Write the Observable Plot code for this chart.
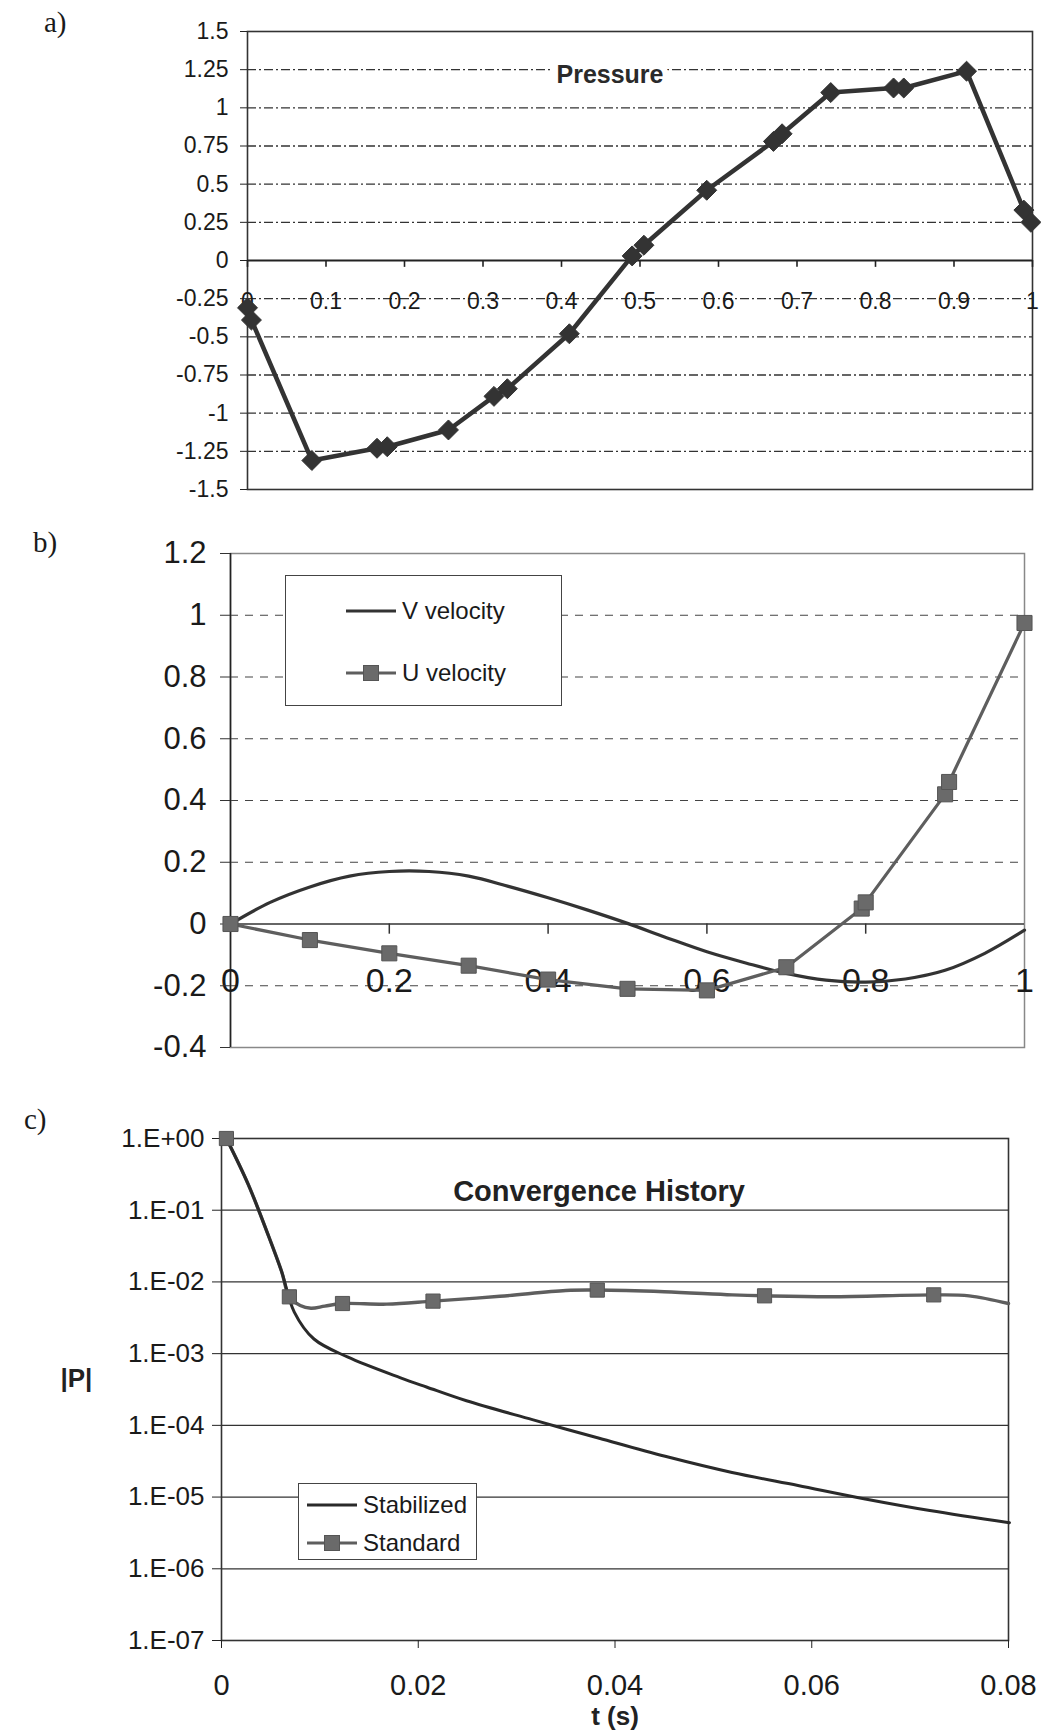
<!DOCTYPE html>
<html><head><meta charset="utf-8">
<script src="https://cdn.jsdelivr.net/npm/d3@7"></script>
<script src="https://cdn.jsdelivr.net/npm/@observablehq/plot@0.6"></script>
<style>
body{margin:0;background:#fff;}
#wrap{position:relative;width:1041px;height:1734px;background:#fff;font-family:"Liberation Sans",Arial,Helvetica,sans-serif;color:#1a1a1a;overflow:hidden;}
.panel{position:absolute;left:0;}
.tag{position:absolute;font-family:"Liberation Serif","Times New Roman",serif;font-size:29px;line-height:1;}
.legend{position:absolute;background:#fff;border:1.5px solid #444;box-sizing:border-box;}
.legend .row{position:absolute;left:0;display:flex;align-items:center;}
.legend svg{display:block;}
</style></head><body>
<div id="wrap">
  <div class="tag" style="left:44px;top:8px;">a)</div>
  <div class="tag" style="left:33px;top:528px;">b)</div>
  <div class="tag" style="left:24px;top:1105px;">c)</div>
  <div class="panel" id="pa" style="top:0px;"></div>
  <div class="panel" id="pb" style="top:520px;"></div>
  <div class="panel" id="pc" style="top:1080px;"></div>
  <div class="legend" id="legB" style="left:285px;top:575px;width:277px;height:131px;"></div>
  <div class="legend" id="legC" style="left:298px;top:1483px;width:179px;height:77px;"></div>
</div>
<script>
// ---------- Panel a: Pressure ----------
const pressureX = [0.0, 0.005, 0.082, 0.165, 0.178, 0.256, 0.314, 0.331, 0.41, 0.49, 0.505, 0.585, 0.67, 0.681, 0.743, 0.823, 0.836, 0.916, 0.989, 0.998];
const pressureY = [-0.31, -0.39, -1.31, -1.23, -1.22, -1.11, -0.89, -0.84, -0.48, 0.03, 0.10, 0.46, 0.78, 0.83, 1.10, 1.13, 1.13, 1.24, 0.33, 0.25];
const xTicksA = [0, 0.1, 0.2, 0.3, 0.4, 0.5, 0.6, 0.7, 0.8, 0.9, 1];
const yTicksA = [-1.5, -1.25, -1, -0.75, -0.5, -0.25, 0, 0.25, 0.5, 0.75, 1, 1.25, 1.5];
const gridA = [-1.25, -1, -0.75, -0.5, -0.25, 0.25, 0.5, 0.75, 1, 1.25];

// ---------- Panel b: velocities ----------
const vX = [0, 0.05, 0.1, 0.15, 0.2, 0.25, 0.3, 0.35, 0.4, 0.45, 0.5, 0.55, 0.6, 0.65, 0.7, 0.75, 0.8, 0.85, 0.9, 0.95, 1.0];
const vY = [0, 0.07, 0.12, 0.155, 0.17, 0.17, 0.155, 0.122, 0.085, 0.045, 0.002, -0.045, -0.09, -0.127, -0.16, -0.182, -0.188, -0.178, -0.15, -0.095, -0.02];
const uX = [0, 0.1, 0.2, 0.3, 0.4, 0.5, 0.6, 0.7, 0.795, 0.8, 0.9, 0.905, 1.0];
const uY = [0, -0.052, -0.095, -0.135, -0.18, -0.21, -0.215, -0.14, 0.05, 0.07, 0.42, 0.46, 0.975];
const xTicksB = [0, 0.2, 0.4, 0.6, 0.8, 1];
const yTicksB = [-0.4, -0.2, 0, 0.2, 0.4, 0.6, 0.8, 1, 1.2];
const gridB = [-0.2, 0.2, 0.4, 0.6, 0.8, 1];

// ---------- Panel c: convergence history ----------
const stabT = [0.0005, 0.0027, 0.0047, 0.0061, 0.0074, 0.0094, 0.0128, 0.0182, 0.0209, 0.0249, 0.0316, 0.0384, 0.0451, 0.0519, 0.0586, 0.0653, 0.072, 0.0801];
const stabP = [1, 0.232, 0.0468, 0.0141, 0.0038, 0.00160, 9.0e-4, 4.6e-4, 3.4e-4, 2.2e-4, 1.2e-4, 6.6e-5, 3.7e-5, 2.2e-5, 1.45e-5, 0.95e-5, 6.5e-6, 4.4e-6];
const stdT = [0.0005, 0.0027, 0.0047, 0.0061, 0.0069, 0.0080, 0.0091, 0.0105, 0.0123, 0.0168, 0.0215, 0.0283, 0.035, 0.0382, 0.045, 0.0519, 0.0552, 0.062, 0.0724, 0.076, 0.080];
const stdP = [1, 0.232, 0.0468, 0.0141, 6.2e-3, 4.7e-3, 4.3e-3, 4.6e-3, 5.0e-3, 4.9e-3, 5.4e-3, 6.3e-3, 7.6e-3, 7.7e-3, 7.3e-3, 6.6e-3, 6.4e-3, 6.2e-3, 6.6e-3, 6.4e-3, 5.0e-3];
const stdMarkT = [0.0005, 0.0069, 0.0123, 0.0215, 0.0382, 0.0552, 0.0724];
const stdMarkP = [1, 6.2e-3, 5.0e-3, 5.4e-3, 7.7e-3, 6.4e-3, 6.6e-3];
const xTicksC = [0, 0.02, 0.04, 0.06, 0.08];
const yTicksC = [1e-7, 1e-6, 1e-5, 1e-4, 1e-3, 1e-2, 1e-1, 1];
const gridC = [1e-6, 1e-5, 1e-4, 1e-3, 1e-2, 1e-1];

const FONT = "Liberation Sans, Arial, Helvetica, sans-serif";
const INK = "#1a1a1a";
const fmt = d => String(d);
const fmtE = d => { const e = Math.round(Math.log10(d)); return "1.E" + (e >= 0 ? "+" : "-") + String(Math.abs(e)).padStart(2, "0"); };
const zip = (xs, ys) => xs.map((x, i) => ({x, y: ys[i]}));

const pressure = zip(pressureX, pressureY);
const vVel = zip(vX, vY);
const uVel = zip(uX, uY);
const stab = zip(stabT, stabP);
const std = zip(stdT, stdP);
const stdMarks = zip(stdMarkT, stdMarkP);

const baseStyle = {fontFamily: FONT, color: INK, background: "transparent", overflow: "visible"};

// Panel a
const plotA = Plot.plot({
  width: 1041, height: 520,
  marginLeft: 247, marginRight: 9, marginTop: 31, marginBottom: 31,
  x: {domain: [0, 1], axis: null},
  y: {domain: [-1.5, 1.5]},
  style: {...baseStyle, fontSize: "22px"},
  marks: [
    Plot.ruleY(gridA, {stroke: "#333", strokeWidth: 1.4, strokeDasharray: "9,3,2,3"}),
    Plot.frame({stroke: "#333", strokeWidth: 1.6}),
    Plot.ruleY([0], {stroke: "#222", strokeWidth: 2}),
    Plot.ruleX(xTicksA, {x: d => d, y1: 0, y2: -0.045, stroke: "#222", strokeWidth: 1.6}),
    Plot.text(xTicksA, {x: d => d, y: 0, dy: 41, text: fmt, fontSize: 23, fill: INK}),
    Plot.axisY({ticks: yTicksA, tickFormat: fmt, tickSize: 7, tickPadding: 12, fontSize: 23, label: null, stroke: "#222"}),
    Plot.text(["Pressure"], {frameAnchor: "top", dx: -30, dy: 34, text: d => d, fontWeight: "bold", fontSize: 25, fill: "#2a2a2a", stroke: "white", strokeWidth: 12, paintOrder: "stroke"}),
    Plot.line(pressure, {x: "x", y: "y", stroke: "#333", strokeWidth: 4.5}),
    Plot.dot(pressure, {x: "x", y: "y", symbol: "diamond2", r: 9, fill: "#333", stroke: "#333", strokeWidth: 1})
  ]
});
document.getElementById("pa").append(plotA);

// Panel b
const plotB = Plot.plot({
  width: 1041, height: 560,
  marginLeft: 230, marginRight: 17, marginTop: 33, marginBottom: 33,
  x: {domain: [0, 1], axis: null},
  y: {domain: [-0.4, 1.2]},
  style: {...baseStyle, fontSize: "31px"},
  marks: [
    Plot.ruleY(gridB, {stroke: "#444", strokeWidth: 1.2, strokeDasharray: "8,7"}),
    Plot.frame({stroke: "#888", strokeWidth: 1.5}),
    Plot.ruleX([0], {stroke: "#222", strokeWidth: 1.6}),
    Plot.ruleY([0], {stroke: "#333", strokeWidth: 1.6}),
    Plot.ruleX(xTicksB.slice(1, -1), {x: d => d, y1: 0, y2: -0.033, stroke: "#333", strokeWidth: 1.5}),
    Plot.text(xTicksB, {x: d => d, y: 0, dy: 57, text: fmt, fontSize: 34, fill: INK}),
    Plot.axisY({ticks: yTicksB, tickFormat: fmt, tickSize: 10, tickPadding: 14, fontSize: 31, label: null, stroke: "#333"}),
    Plot.line(vVel, {x: "x", y: "y", stroke: "#333", strokeWidth: 3.2, curve: "catmull-rom"}),
    Plot.line(uVel, {x: "x", y: "y", stroke: "#5e5e5e", strokeWidth: 3.2}),
    Plot.dot(uVel, {x: "x", y: "y", symbol: "square", r: 8.5, fill: "#6a6a6a", stroke: "#555", strokeWidth: 1})
  ]
});
document.getElementById("pb").append(plotB);

// Panel c
const plotC = Plot.plot({
  width: 1041, height: 654,
  marginLeft: 221, marginRight: 33, marginTop: 58, marginBottom: 94,
  x: {domain: [0, 0.08]},
  y: {type: "log", domain: [1e-7, 1]},
  style: {...baseStyle, fontSize: "26px"},
  marks: [
    Plot.ruleY(gridC, {stroke: "#333", strokeWidth: 1.3}),
    Plot.frame({stroke: "#333", strokeWidth: 1.6}),
    Plot.axisY({ticks: yTicksC, tickFormat: fmtE, tickSize: 9, tickPadding: 8, fontSize: 26, label: null, stroke: "#222"}),
    Plot.axisX({ticks: xTicksC, tickFormat: fmt, tickSize: 8, tickPadding: 26, fontSize: 29, label: null, stroke: "#222"}),
    Plot.text(["Convergence History"], {frameAnchor: "top", dx: -16, dy: 42, text: d => d, fontWeight: "bold", fontSize: 29, fill: "#222"}),
    Plot.text(["|P|"], {frameAnchor: "left", dx: -161, dy: -11, text: d => d, fontWeight: "bold", fontSize: 26, fill: "#222"}),
    Plot.text(["t (s)"], {frameAnchor: "bottom", dx: 0, dy: 84, text: d => d, fontWeight: "bold", fontSize: 26, fill: "#222"}),
    Plot.line(std, {x: "x", y: "y", stroke: "#5e5e5e", strokeWidth: 3.4, curve: "catmull-rom"}),
    Plot.line(stab, {x: "x", y: "y", stroke: "#2a2a2a", strokeWidth: 3, curve: "catmull-rom"}),
    Plot.dot(stdMarks, {x: "x", y: "y", symbol: "square", r: 8, fill: "#6a6a6a", stroke: "#555", strokeWidth: 1})
  ]
});
document.getElementById("pc").append(plotC);

// Legends (HTML, real text)
function legendRow(container, top, left, label, withMarker, color, fontSize, lineW) {
  const row = document.createElement("div");
  row.className = "row";
  row.style.top = (top - fontSize * 0.7) + "px";
  row.style.left = left + "px";
  row.style.height = (fontSize * 1.4) + "px";
  const svg = d3.create("svg").attr("width", lineW + 6).attr("height", 20);
  svg.append("line").attr("x1", 0).attr("x2", lineW).attr("y1", 10).attr("y2", 10)
    .attr("stroke", color).attr("stroke-width", 3.2);
  if (withMarker) {
    svg.append("rect").attr("x", lineW / 2 - 7.5).attr("y", 2.5).attr("width", 15).attr("height", 15)
      .attr("fill", "#6a6a6a").attr("stroke", "#555");
  }
  row.append(svg.node());
  const t = document.createElement("span");
  t.textContent = label;
  t.style.fontSize = fontSize + "px";
  t.style.color = INK;
  row.append(t);
  container.append(row);
}
const legB = document.getElementById("legB");
legendRow(legB, 35, 60, "V velocity", false, "#333", 24, 50);
legendRow(legB, 97, 60, "U velocity", true, "#5e5e5e", 24, 50);
const legC = document.getElementById("legC");
legendRow(legC, 21, 8, "Stabilized", false, "#2a2a2a", 24, 50);
legendRow(legC, 59, 8, "Standard", true, "#5e5e5e", 24, 50);
</script>
</body></html>
